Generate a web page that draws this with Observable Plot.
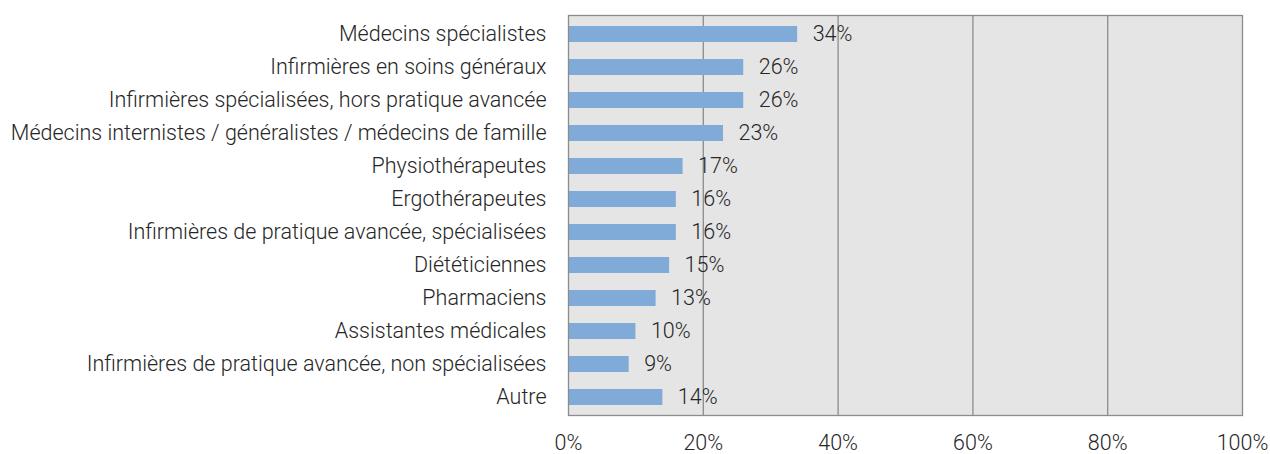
<!DOCTYPE html>
<html>
<head>
<meta charset="utf-8">
<script src="https://cdn.jsdelivr.net/npm/d3@7"></script>
<script src="https://cdn.jsdelivr.net/npm/@observablehq/plot@0.6"></script>
<style>
  html, body { margin: 0; padding: 0; background: #fff; }
  #chart svg { font-family: Roboto, "Noto Sans", sans-serif; font-weight: 300; }
</style>
</head>
<body>
<div id="chart"></div>
<script>
const categories = [
  "Médecins spécialistes",
  "Infirmières en soins généraux",
  "Infirmières spécialisées, hors pratique avancée",
  "Médecins internistes / généralistes / médecins de famille",
  "Physiothérapeutes",
  "Ergothérapeutes",
  "Infirmières de pratique avancée, spécialisées",
  "Diététiciennes",
  "Pharmaciens",
  "Assistantes médicales",
  "Infirmières de pratique avancée, non spécialisées",
  "Autre"
];
const values = [34, 26, 26, 23, 17, 16, 16, 15, 13, 10, 9, 14];
const xTicks = [0, 20, 40, 60, 80, 100];
const gridTicks = [20, 40, 60, 80];

const data = categories.map((c, i) => ({category: c, value: values[i]}));

const chart = Plot.plot({
  width: 1270,
  height: 454,
  marginLeft: 568,
  marginRight: 28,
  marginTop: 15,
  marginBottom: 39,
  style: {fontSize: "21.5px", color: "#262626", background: "#fff"},
  x: {domain: [0, 100], ticks: xTicks, tickFormat: d => d + "%", tickSize: 0, tickPadding: 19, label: null},
  y: {domain: categories, paddingInner: 0.52, paddingOuter: 0.26, tickSize: 0, tickPadding: 22, label: null},
  marks: [
    Plot.frame({fill: "#e5e5e5", stroke: "none"}),
    Plot.ruleX(gridTicks, {stroke: "#8c8c8c", strokeWidth: 1.3, strokeOpacity: 1}),
    Plot.barX(data, {x: "value", y: "category", fill: "#80aad8"}),
    Plot.text(data, {x: "value", y: "category", text: d => d.value + "%", textAnchor: "start", dx: 15, fill: "#262626", fontSize: 21.5}),
    Plot.frame({stroke: "#8c8c8c", strokeWidth: 1.3})
  ]
});
document.getElementById("chart").appendChild(chart);
</script>
</body>
</html>
